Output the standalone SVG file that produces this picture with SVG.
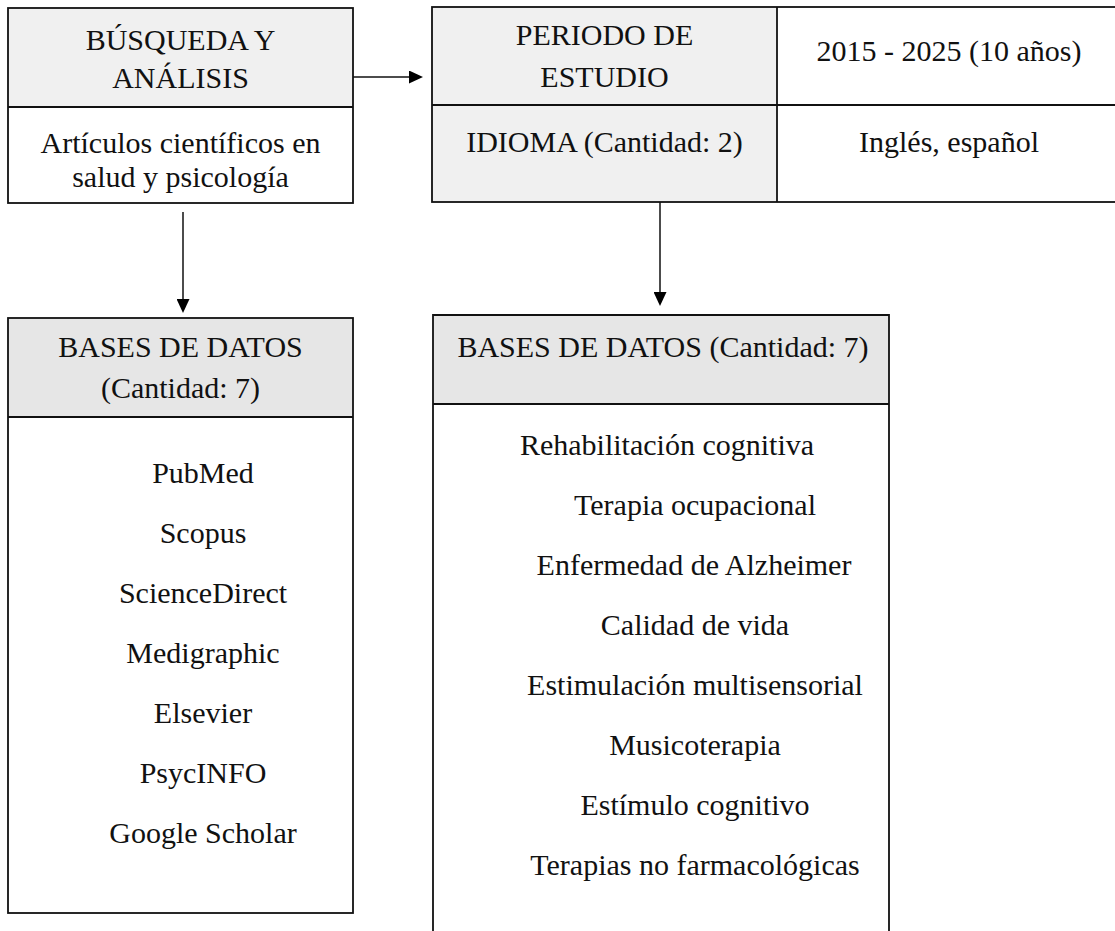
<svg xmlns="http://www.w3.org/2000/svg" width="1115" height="931" viewBox="0 0 1115 931">
<style>
.t{font-family:"Liberation Serif","Times New Roman",serif;font-size:30px;fill:#111;text-anchor:middle}
.box{stroke:#111;stroke-width:1.8;fill:#fff}
.h1{fill:#f0f0f0}
.h2{fill:#e6e6e6}
.ln{stroke:#111;stroke-width:1.8;fill:none}
.arr{stroke:#111;stroke-width:1.5;fill:none}
</style>
<defs>
<marker id="ah" markerUnits="userSpaceOnUse" markerWidth="14" markerHeight="13" refX="0" refY="6.5" orient="auto">
<path d="M0,0 L14,6.5 L0,13 z" fill="#000"/>
</marker>
</defs>
<rect width="1115" height="931" fill="#fff"/>

<g id="busqueda">
<rect x="8" y="8" width="345" height="99" class="h1"/>
<rect x="8" y="8" width="345" height="195" class="box" fill="none" style="fill:none"/>
<line x1="8" y1="107" x2="353" y2="107" class="ln"/>
<text class="t" x="180.5" y="50">BÚSQUEDA Y</text>
<text class="t" x="180.5" y="88">ANÁLISIS</text>
<text class="t" x="180.5" y="153">Artículos científicos en</text>
<text class="t" x="180.5" y="187">salud y psicología</text>
</g>

<g id="periodo">
<rect x="432" y="7" width="345" height="195" class="h1"/>
<rect x="432" y="7" width="700" height="195" class="box" style="fill:none"/>
<line x1="432" y1="105" x2="1132" y2="105" class="ln"/>
<line x1="777" y1="7" x2="777" y2="202" class="ln"/>
<text class="t" x="604.5" y="45">PERIODO DE</text>
<text class="t" x="604.5" y="87">ESTUDIO</text>
<text class="t" x="949" y="61">2015 - 2025 (10 años)</text>
<text class="t" x="604.5" y="152">IDIOMA (Cantidad: 2)</text>
<text class="t" x="949" y="152">Inglés, español</text>
</g>

<g id="bases1">
<rect x="8" y="318" width="345" height="99" class="h2"/>
<rect x="8" y="318" width="345" height="595" class="box" style="fill:none"/>
<line x1="8" y1="417" x2="353" y2="417" class="ln"/>
<text class="t" x="180.5" y="357">BASES DE DATOS</text>
<text class="t" x="180.5" y="398">(Cantidad: 7)</text>
<text class="t" x="203" y="483">PubMed</text>
<text class="t" x="203" y="543">Scopus</text>
<text class="t" x="203" y="603">ScienceDirect</text>
<text class="t" x="203" y="663">Medigraphic</text>
<text class="t" x="203" y="723">Elsevier</text>
<text class="t" x="203" y="783">PsycINFO</text>
<text class="t" x="203" y="843">Google Scholar</text>
</g>

<g id="bases2">
<rect x="433" y="315" width="456" height="89" class="h2"/>
<path d="M433,935 L433,315 L889,315 L889,935" class="ln"/>
<line x1="433" y1="404" x2="889" y2="404" class="ln"/>
<text class="t" x="663" y="357">BASES DE DATOS (Cantidad: 7)</text>
<text class="t" x="667" y="455">Rehabilitación cognitiva</text>
<text class="t" x="695" y="515">Terapia ocupacional</text>
<text class="t" x="694" y="575">Enfermedad de Alzheimer</text>
<text class="t" x="695" y="635">Calidad de vida</text>
<text class="t" x="695" y="695">Estimulación multisensorial</text>
<text class="t" x="695" y="755">Musicoterapia</text>
<text class="t" x="695" y="815">Estímulo cognitivo</text>
<text class="t" x="695" y="875">Terapias no farmacológicas</text>
</g>

<g id="connectors">
<line x1="353" y1="77" x2="409" y2="77" class="arr" marker-end="url(#ah)"/>
<line x1="183" y1="212" x2="183" y2="299" class="arr" marker-end="url(#ah)"/>
<line x1="660" y1="202" x2="660" y2="292" class="arr" marker-end="url(#ah)"/>
</g>
</svg>
